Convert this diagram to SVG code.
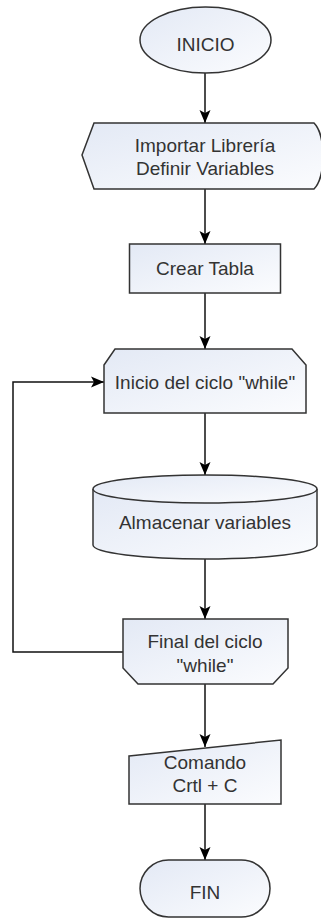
<svg xmlns="http://www.w3.org/2000/svg" width="321" height="919" viewBox="0 0 321 919">
<defs>
<linearGradient id="g" x1="0" y1="0" x2="1" y2="1">
<stop offset="0" stop-color="#e3e9f5"/>
<stop offset="1" stop-color="#fbfcfe"/>
</linearGradient>
<marker id="arr" markerUnits="userSpaceOnUse" markerWidth="14" markerHeight="14" viewBox="0 0 14 14" refX="13" refY="7" orient="auto">
<path d="M0,1.5 L13,7 L0,12.5 L3,7 Z" fill="#000"/>
</marker>
<style>
.s{fill:url(#g);stroke:#333;stroke-width:1.5}
.t{font-family:"Liberation Sans",Arial,sans-serif;font-size:19px;fill:#333;text-anchor:middle}
.c{fill:none;stroke:#111;stroke-width:1.5;marker-end:url(#arr)}
</style>
</defs>
<rect width="321" height="919" fill="#fff"/>
<g id="connectors">
<path class="c" d="M205,73 V123"/>
<path class="c" d="M205,189 V244"/>
<path class="c" d="M205,293 V349"/>
<path class="c" d="M205,413 V475"/>
<path class="c" d="M205,559 V619"/>
<path class="c" d="M205,684 V747"/>
<path class="c" d="M205,804 V860"/>
<path class="c" d="M123,652 H13 V382 H104"/>
</g>
<g id="inicio">
<ellipse class="s" cx="205.5" cy="40" rx="65.5" ry="33"/>
<text class="t" x="205.5" y="51">INICIO</text>
</g>
<g id="importar">
<path class="s" d="M82,155 L94,123 L314,123 C326,135 326,177 314,189 L94,189 Z"/>
<text class="t" x="205" y="152">Importar Librería</text>
<text class="t" x="205" y="175">Definir Variables</text>
</g>
<g id="crear">
<rect class="s" x="129.5" y="244" width="151" height="49"/>
<text class="t" x="205" y="275">Crear Tabla</text>
</g>
<g id="inicioCiclo">
<path class="s" d="M104,365 L115,349 L292,349 L306,365 L306,413 L104,413 Z"/>
<text class="t" x="205" y="389">Inicio del ciclo "while"</text>
</g>
<g id="almacenar">
<path class="s" d="M93,489 V545 A112,14 0 0 0 317,545 V489"/>
<ellipse class="s" cx="205" cy="489" rx="112" ry="14"/>
<text class="t" x="205" y="529">Almacenar variables</text>
</g>
<g id="final">
<path class="s" d="M123,619 L288,619 L288,668 L273,684 L138,684 L123,668 Z"/>
<text class="t" x="205" y="648">Final del ciclo</text>
<text class="t" x="205" y="672">"while"</text>
</g>
<g id="comando">
<path class="s" d="M129,756 L281,740 L281,804 L129,804 Z"/>
<text class="t" x="205" y="769">Comando</text>
<text class="t" x="205" y="792">Crtl + C</text>
</g>
<g id="fin">
<rect class="s" x="140" y="860" width="130" height="57" rx="28.5" ry="28.5"/>
<text class="t" x="205" y="899">FIN</text>
</g>
</svg>
